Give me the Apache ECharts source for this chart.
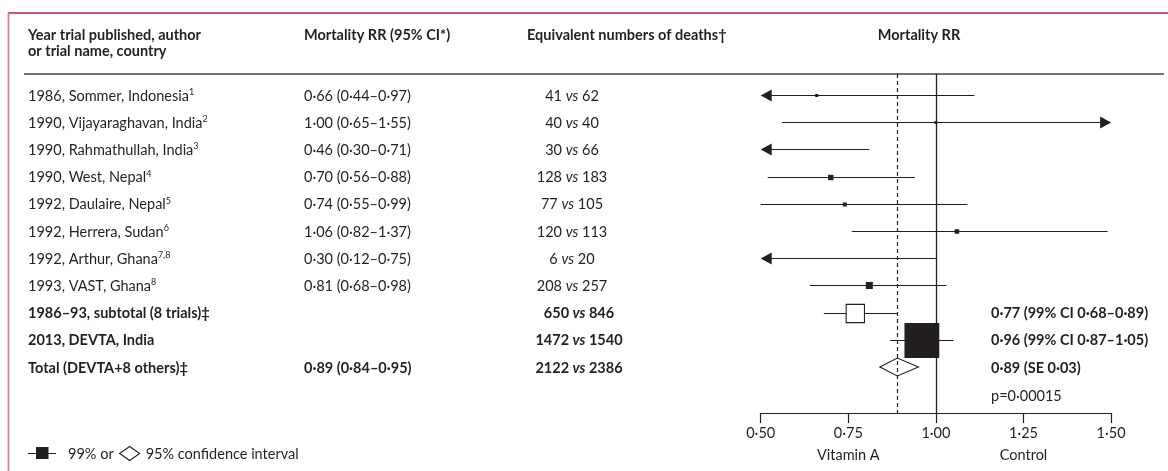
<!DOCTYPE html>
<html><head><meta charset="utf-8">
<script src="https://cdn.jsdelivr.net/npm/echarts@6/dist/echarts.min.js"></script>
<style>html,body{margin:0;padding:0;background:#fff}#c{width:1168px;height:471px}</style>
</head><body><div id="c"></div>
<script>
// ---------- data ----------
const studies = ['1986, Sommer, Indonesia', '1990, Vijayaraghavan, India', '1990, Rahmathullah, India', '1990, West, Nepal', '1992, Daulaire, Nepal', '1992, Herrera, Sudan', '1992, Arthur, Ghana', '1993, VAST, Ghana', '1986–93, subtotal (8 trials)‡', '2013, DEVTA, India', 'Total (DEVTA+8 others)‡'];
const refs = ['1', '2', '3', '4', '5', '6', '7,8', '8', '', '', ''];
const rowKind = ['trial', 'trial', 'trial', 'trial', 'trial', 'trial', 'trial', 'trial', 'subtotal', 'devta', 'total'];
const rrCI = ['0·66 (0·44–0·97)', '1·00 (0·65–1·55)', '0·46 (0·30–0·71)', '0·70 (0·56–0·88)', '0·74 (0·55–0·99)', '1·06 (0·82–1·37)', '0·30 (0·12–0·75)', '0·81 (0·68–0·98)', '', '', '0·89 (0·84–0·95)'];
const deathsVitA = [41, 40, 30, 128, 77, 120, 6, 208, 650, 1472, 2122];
const deathsControl = [62, 40, 66, 183, 105, 113, 20, 257, 846, 1540, 2386];
const rr = [0.66, 1.00, 0.46, 0.70, 0.74, 1.06, 0.30, 0.81, 0.77, 0.96, 0.89];
const lo99 = [0.39, 0.56, 0.26, 0.52, 0.50, 0.76, 0.09, 0.64, 0.68, 0.87, 0.84];
const hi99 = [1.11, 1.77, 0.81, 0.94, 1.09, 1.49, 1.00, 1.03, 0.89, 1.05, 0.95];
const summaryText = ['', '', '', '', '', '', '', '', '0·77 (99% CI 0·68–0·89)', '0·96 (99% CI 0·87–1·05)', '0·89 (SE 0·03)'];
const pValue = 'p=0·00015';
const xTickMin = 0.5, xTickMax = 1.5, xTickStep = 0.25;
const nullRR = 1.00, overallRR = 0.89;
const sideLabels = [[0.75, 'Vitamin A'], [1.25, 'Control']];
const legendA = '99% or', legendB = '95% confidence interval';

// ---------- layout / style ----------
const FONT = 'Lato, "Noto Sans", sans-serif';
const INK = '#231f20';
const FS = 14.5;
const COL = { study: 28, rr: 304, deaths: 572, deathsBold: 579, summary: 991 };
const ROW0 = 95, ROWH = 27.2, GRID_TOP = 74, AXIS_Y = 413;
const AL = 11, AH = 6;

const RICH = {
  n: { fontFamily: FONT, fontSize: FS, fill: INK, lineHeight: 17 },
  b: { fontFamily: FONT, fontSize: FS, fontWeight: 'bold', fill: INK, lineHeight: 17 },
  s: { fontFamily: FONT, fontSize: 9, fill: INK, lineHeight: 12, verticalAlign: 'top' },
  v: { fontFamily: FONT, fontSize: FS, fontStyle: 'italic', fill: INK, lineHeight: 17 },
  vb: { fontFamily: FONT, fontSize: FS, fontStyle: 'italic', fontWeight: 'bold', fill: INK, lineHeight: 17 }
};

const mctx = document.createElement('canvas').getContext('2d');
function textW(s, font) { mctx.font = font; return mctx.measureText(s).width; }

function txt(text, x, y, align, extra) {
  return { type: 'text', style: Object.assign({ text, x, y, align: align || 'left', verticalAlign: 'middle', rich: RICH, fill: INK, fontFamily: FONT, fontSize: FS }, extra || {}) };
}

function renderRow(params, api) {
  const i = api.value(0);
  const y = api.coord([1, i])[1];
  const yl = Math.round(y) + 0.5;
  const xp = v => api.coord([v, i])[0];
  const ch = [];
  if (i === studies.length) {
    ch.push(txt(pValue, COL.summary, y + 2, 'left', { rich: null }));
    return { type: 'group', children: ch };
  }
  const kind = rowKind[i];
  const bold = kind !== 'trial';
  const k = bold ? 'b' : 'n';
  let lab = '{' + k + '|' + studies[i] + '}';
  if (refs[i]) lab += '{s|' + refs[i] + '}';
  ch.push(txt(lab, COL.study, y + 1));
  if (rrCI[i]) ch.push(txt('{' + k + '|' + rrCI[i] + '}', COL.rr, y + 1));
  const d = '{' + k + '|' + deathsVitA[i] + ' }{' + (bold ? 'vb' : 'v') + '|vs}{' + k + '| ' + deathsControl[i] + '}';
  ch.push(txt(d, bold ? COL.deathsBold : COL.deaths, y + 1, 'center'));
  if (summaryText[i]) ch.push(txt('{b|' + summaryText[i] + '}', COL.summary, y + 1));

  const lo = Math.max(lo99[i], xTickMin), hi = Math.min(hi99[i], xTickMax);
  const line = { stroke: INK, lineWidth: 1 };
  if (kind === 'total') {
    const h = 9;
    ch.push({ type: 'polygon', shape: { points: [[xp(lo), y], [xp(rr[i]), y - h], [xp(hi), y], [xp(rr[i]), y + h]] }, style: { fill: 'none', stroke: INK, lineWidth: 1.1 } });
  } else {
    const aL = lo99[i] < xTickMin, aR = hi99[i] > xTickMax;
    const x1 = xp(lo) + (aL ? AL - 1 : 0), x2 = xp(hi) - (aR ? AL - 1 : 0);
    ch.push({ type: 'line', shape: { x1, y1: yl, x2, y2: yl }, style: line });
    if (aL) ch.push({ type: 'polygon', shape: { points: [[xp(lo), yl], [xp(lo) + AL, yl - AH], [xp(lo) + AL, yl + AH]] }, style: { fill: INK } });
    if (aR) ch.push({ type: 'polygon', shape: { points: [[xp(hi), yl], [xp(hi) - AL, yl - AH], [xp(hi) - AL, yl + AH]] }, style: { fill: INK } });
    if (rr[i] >= xTickMin && rr[i] <= xTickMax) {
      const s = 2 + (deathsVitA[i] + deathsControl[i]) * 0.0109;
      const open = kind === 'subtotal';
      ch.push({ type: 'rect', shape: { x: xp(rr[i]) - s / 2, y: yl - s / 2, width: s, height: s }, style: open ? { fill: '#fff', stroke: INK, lineWidth: 1.1 } : { fill: INK } });
    }
  }
  return { type: 'group', children: ch };
}

function renderSide(params, api) {
  const x = api.coord([api.value(0), 0])[0];
  return txt(sideLabels[params.dataIndex][1], x, AXIS_Y + 42, 'center', { rich: null });
}

const rowsData = studies.map((s, i) => [i]).concat([[studies.length]]);
const yMin = (GRID_TOP - ROW0) / ROWH, yMax = (AXIS_Y - ROW0) / ROWH;

const LFONT = FS + 'px ' + FONT;
const legX0 = 68;
const dX = legX0 + textW(legendA, LFONT) + 6;
const lb = dX + 26;

const option = {
  animation: false,
  backgroundColor: '#fff',
  grid: { left: 760.7, right: 1168 - 1111.1, top: GRID_TOP, bottom: 471 - AXIS_Y },
  xAxis: {
    type: 'value', min: xTickMin, max: xTickMax, interval: xTickStep,
    axisLine: { onZero: false, lineStyle: { color: INK, width: 1.2 } },
    axisTick: { length: 10, lineStyle: { color: INK, width: 1.2 } },
    splitLine: { show: false },
    axisLabel: { color: INK, fontFamily: FONT, fontSize: FS, margin: 13, formatter: v => v.toFixed(2).replace('.', '·') }
  },
  yAxis: { type: 'value', inverse: true, min: yMin, max: yMax, show: false },
  series: [
    {
      type: 'custom', clip: false, data: rowsData, renderItem: renderRow, z: 3,
      markLine: {
        silent: true, symbol: ['none', 'none'], label: { show: false },
        data: [
          { xAxis: nullRR, lineStyle: { type: 'solid', color: INK, width: 1.3 } },
          { xAxis: overallRR, lineStyle: { type: [4, 3], color: INK, width: 1.2 } }
        ]
      }
    },
    { type: 'custom', clip: false, data: sideLabels.map(d => [d[0]]), renderItem: renderSide }
  ],
  graphic: [
    { type: 'line', shape: { x1: 8, y1: 13, x2: 1168, y2: 13 }, style: { stroke: '#b3204c', lineWidth: 1.5 } },
    { type: 'line', shape: { x1: 8.5, y1: 13, x2: 8.5, y2: 471 }, style: { stroke: '#dc7f99', lineWidth: 1.8 } },
    { type: 'line', shape: { x1: 24, y1: 74, x2: 1164, y2: 74 }, style: { stroke: '#444', lineWidth: 1.6 } },
    { type: 'text', x: 28, y: 35, style: { text: 'Year trial published, author', fill: INK, font: 'bold 14.5px ' + FONT, verticalAlign: 'middle' } },
    { type: 'text', x: 28, y: 51, style: { text: 'or trial name, country', fill: INK, font: 'bold 14.5px ' + FONT, verticalAlign: 'middle' } },
    { type: 'text', x: 304, y: 35, style: { text: 'Mortality RR (95% CI*)', fill: INK, font: 'bold 14.5px ' + FONT, verticalAlign: 'middle' } },
    { type: 'text', x: 527, y: 35, style: { text: 'Equivalent numbers of deaths†', fill: INK, font: 'bold 14.5px ' + FONT, verticalAlign: 'middle' } },
    { type: 'text', x: 919, y: 35, style: { text: 'Mortality RR', fill: INK, font: 'bold 14.5px ' + FONT, align: 'center', verticalAlign: 'middle' } },
    // legend
    { type: 'line', shape: { x1: 28, y1: 453.5, x2: 56, y2: 453.5 }, style: { stroke: INK, lineWidth: 1 } },
    { type: 'rect', shape: { x: 36, y: 447, width: 12.5, height: 12 }, style: { fill: INK } },
    { type: 'text', x: legX0, y: 454, style: { text: legendA, fill: INK, font: LFONT, verticalAlign: 'middle' } },
    { type: 'polygon', shape: { points: [[dX, 453.5], [dX + 10, 446.5], [dX + 20, 453.5], [dX + 10, 460.5]] }, style: { fill: 'none', stroke: INK, lineWidth: 1.1 } },
    { type: 'text', x: lb, y: 454, style: { text: legendB, fill: INK, font: LFONT, verticalAlign: 'middle' } }
  ]
};
const chart = echarts.init(document.getElementById('c'));
chart.setOption(option);
</script></body></html>
